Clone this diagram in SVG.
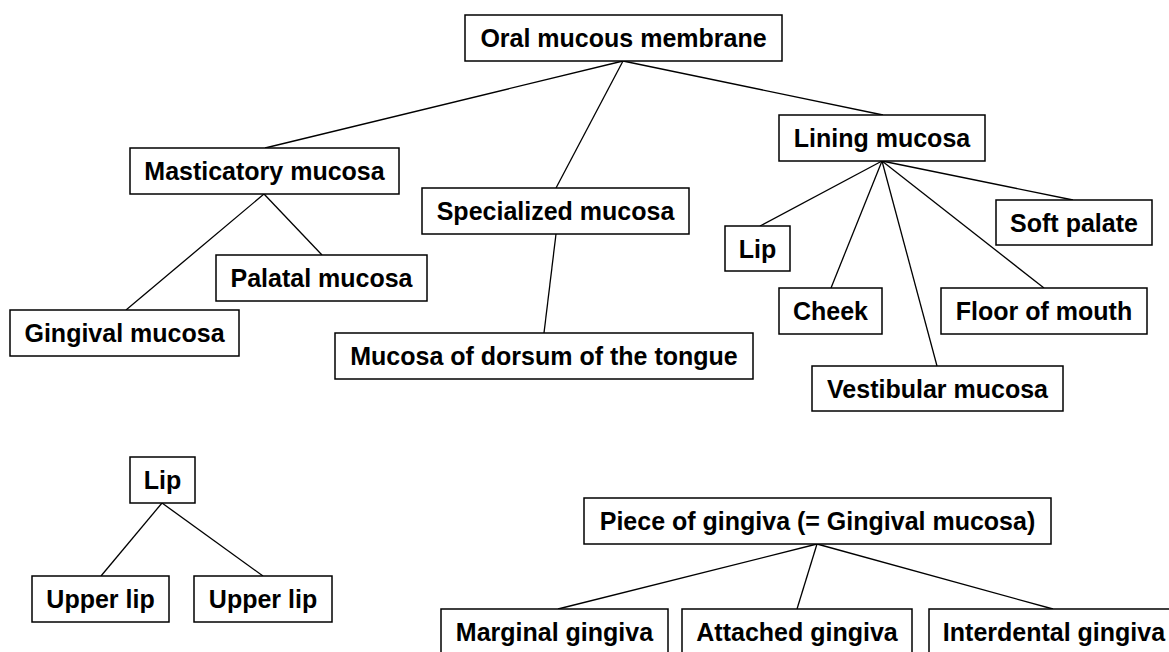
<svg xmlns="http://www.w3.org/2000/svg" width="1169" height="652" viewBox="0 0 1169 652">
<style>
.box{fill:#fff;stroke:#000;stroke-width:1.5}
.lbl{font-family:"Liberation Sans",Arial,sans-serif;font-weight:bold;font-size:25px;fill:#000;text-anchor:middle}
.edge{stroke:#000;stroke-width:1.3;fill:none}
</style>
<rect width="1169" height="652" fill="#fff"/>
<g id="connectors">
<line class="edge" x1="623" y1="61" x2="265" y2="148"/>
<line class="edge" x1="623" y1="61" x2="556" y2="188"/>
<line class="edge" x1="623" y1="61" x2="883" y2="115"/>
<line class="edge" x1="264" y1="194" x2="322" y2="255"/>
<line class="edge" x1="264" y1="194" x2="126" y2="310"/>
<line class="edge" x1="556" y1="234" x2="544" y2="333"/>
<line class="edge" x1="882" y1="161" x2="760" y2="226"/>
<line class="edge" x1="882" y1="161" x2="831" y2="288"/>
<line class="edge" x1="882" y1="161" x2="937" y2="366"/>
<line class="edge" x1="882" y1="161" x2="1044" y2="288"/>
<line class="edge" x1="882" y1="161" x2="1073" y2="200"/>
<line class="edge" x1="162" y1="503" x2="101" y2="576"/>
<line class="edge" x1="162" y1="503" x2="263" y2="576"/>
<line class="edge" x1="817" y1="544" x2="558" y2="609"/>
<line class="edge" x1="817" y1="544" x2="797" y2="609"/>
<line class="edge" x1="817" y1="544" x2="1053" y2="609"/>
</g>
<g id="oral"><rect class="box" x="465" y="15" width="317" height="46"/><text class="lbl" x="623.5" y="47">Oral mucous membrane</text></g>
<g id="masticatory"><rect class="box" x="130" y="148" width="269" height="46"/><text class="lbl" x="264.5" y="180">Masticatory mucosa</text></g>
<g id="specialized"><rect class="box" x="422" y="188" width="267" height="46"/><text class="lbl" x="555.5" y="220">Specialized mucosa</text></g>
<g id="lining"><rect class="box" x="779" y="115" width="206" height="46"/><text class="lbl" x="882" y="147">Lining mucosa</text></g>
<g id="palatal"><rect class="box" x="216" y="255" width="211" height="46"/><text class="lbl" x="321.5" y="287">Palatal mucosa</text></g>
<g id="gingival"><rect class="box" x="10" y="310" width="229" height="46"/><text class="lbl" x="124.5" y="342">Gingival mucosa</text></g>
<g id="dorsum"><rect class="box" x="335" y="333" width="418" height="46"/><text class="lbl" x="544" y="365">Mucosa of dorsum of the tongue</text></g>
<g id="lip"><rect class="box" x="725" y="226" width="65" height="45"/><text class="lbl" x="757.5" y="258">Lip</text></g>
<g id="softpalate"><rect class="box" x="996" y="200" width="156" height="45"/><text class="lbl" x="1074" y="232">Soft palate</text></g>
<g id="cheek"><rect class="box" x="779" y="288" width="103" height="46"/><text class="lbl" x="830.5" y="320">Cheek</text></g>
<g id="floor"><rect class="box" x="941" y="288" width="206" height="46"/><text class="lbl" x="1044" y="320">Floor of mouth</text></g>
<g id="vestibular"><rect class="box" x="812" y="366" width="251" height="45"/><text class="lbl" x="937.5" y="398">Vestibular mucosa</text></g>
<g id="lip2"><rect class="box" x="130" y="457" width="65" height="46"/><text class="lbl" x="162.5" y="489">Lip</text></g>
<g id="upperlip1"><rect class="box" x="32" y="576" width="137" height="46"/><text class="lbl" x="100.5" y="608">Upper lip</text></g>
<g id="upperlip2"><rect class="box" x="194" y="576" width="138" height="46"/><text class="lbl" x="263" y="608">Upper lip</text></g>
<g id="piece"><rect class="box" x="584" y="498" width="467" height="46"/><text class="lbl" x="817.5" y="530">Piece of gingiva (= Gingival mucosa)</text></g>
<g id="marginal"><rect class="box" x="441" y="609" width="227" height="50"/><text class="lbl" x="554.5" y="641">Marginal gingiva</text></g>
<g id="attached"><rect class="box" x="682" y="609" width="230" height="50"/><text class="lbl" x="797" y="641">Attached gingiva</text></g>
<g id="interdental"><rect class="box" x="929" y="609" width="250" height="50"/><text class="lbl" x="1054" y="641">Interdental gingiva</text></g>
</svg>
